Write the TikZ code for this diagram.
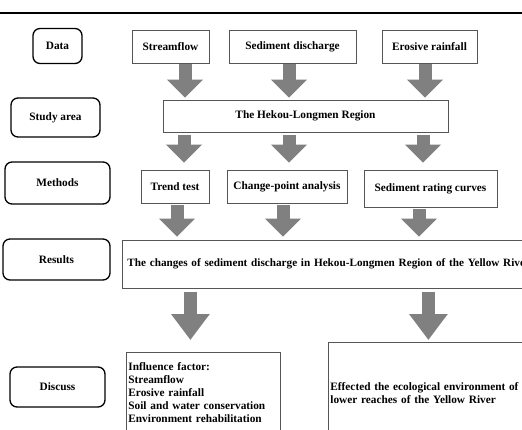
\documentclass[tikz,border=0pt]{standalone}
\usepackage{fontspec}
\setmainfont{Liberation Serif}
\usetikzlibrary{arrows.meta,calc}
\definecolor{arrowgray}{RGB}{128,128,128}
\definecolor{boxgray}{RGB}{85,85,85}

\begin{document}
\begin{tikzpicture}[x=1pt,y=-1pt,
  every node/.style={font=\fontsize{11.3}{13}\selectfont\bfseries},
  stage/.style={draw,line width=1.3pt,rounded corners=7pt,inner sep=0pt,align=center},
  box/.style={draw=boxgray,line width=0.8pt,inner sep=0pt,align=center},
  bigarrow/.style={arrowgray,line width=13pt,-{Triangle[width=35pt,length=18pt]}},
  longarrow/.style={arrowgray,line width=13pt,-{Triangle[width=37pt,length=26pt]}}]
  \useasboundingbox (0,0) rectangle (522,429);
  \clip (0,0) rectangle (522,429);
  \draw[line width=1.2pt] (0,13) -- (522,13);

  % stages on the left
  \node[stage,minimum width=49,minimum height=35] (data) at (57.5,46) {Data};
  \node[stage,minimum width=89,minimum height=39] (study) at (55.5,117.5) {Study area};
  \node[stage,minimum width=105,minimum height=42] (methods) at (57.5,183) {Methods};
  \node[stage,minimum width=107,minimum height=41] (results) at (56.5,259.5) {Results};
  \node[stage,minimum width=95,minimum height=40] (discuss) at (57.5,387) {Discuss};

  % data
  \node[box,minimum width=77,minimum height=33] (stream) at (170.5,46.5) {Streamflow};
  \node[box,minimum width=127,minimum height=33] (sediment) at (292.5,46.5) {Sediment discharge};
  \node[box,minimum width=95,minimum height=33] (rainfall) at (429.5,46.5) {Erosive rainfall};
  \node[box,minimum width=285,minimum height=32] (hekou) at (305.5,116) {The Hekou-Longmen Region};

  % methods
  \node[box,minimum width=68,minimum height=33] (trend) at (175,186.5) {Trend test};
  \node[box,minimum width=120,minimum height=33] (changept) at (287,186.5) {Change-point analysis};
  \node[box,minimum width=133,minimum height=37] (rating) at (430.5,188.5) {Sediment rating curves};

  % results and discussion
  \node[box,anchor=west,minimum height=48,inner xsep=5pt,text width=420pt,align=left,
    font=\fontsize{11.2}{13}\selectfont\bfseries] (resbox) at (122,264)
    {The changes of sediment discharge in Hekou-Longmen Region of the Yellow River};
  \node[box,anchor=north west,text width=150pt,align=left,inner xsep=2pt,minimum height=80] (inf) at (126,352)
    {Influence factor:\\Streamflow\\Erosive rainfall\\Soil and water conservation\\Environment rehabilitation};
  \node[box,anchor=north west,text width=200pt,align=left,inner xsep=2pt,minimum height=102] (eff) at (328,342)
    {Effected the ecological environment of\\lower reaches of the Yellow River};

  \draw[bigarrow] ($(stream.south)+(14.5,1)$) -- ($(stream.south |- hekou.north)+(14.5,-2)$);
  \draw[bigarrow] ($(sediment.south)+(-3.5,1)$) -- ($(sediment.south |- hekou.north)+(-3.5,-2)$);
  \draw[bigarrow] ($(rainfall.south)+(-4.5,1)$) -- ($(rainfall.south |- hekou.north)+(-4.5,-2)$);

  \draw[bigarrow] ($(trend.north |- hekou.south)+(9,3)$) -- ($(trend.north)+(9,-7)$);
  \draw[bigarrow] ($(changept.north |- hekou.south)+(2,3)$) -- ($(changept.north)+(2,-7)$);
  \draw[bigarrow] ($(rating.north |- hekou.south)+(-7.5,3)$) -- ($(rating.north)+(-7.5,-7)$);

  \draw[bigarrow] ($(trend.south)+(2,2)$) -- ($(trend.south |- resbox.north)+(2,-3)$);
  \draw[bigarrow] ($(changept.south)+(-4,2)$) -- ($(changept.south |- resbox.north)+(-4,-3)$);
  \draw[bigarrow] ($(rating.south)+(-11.5,2)$) -- ($(rating.south |- resbox.north)+(-11.5,-3)$);

  \draw[longarrow] ($(inf.north |- resbox.south)+(-13,4)$) -- ($(inf.north)+(-13,-12)$);
  \draw[longarrow] ($(eff.north |- resbox.south)+(-2,4)$) -- ($(eff.north)+(-2,-2)$);
\end{tikzpicture}
\end{document}
